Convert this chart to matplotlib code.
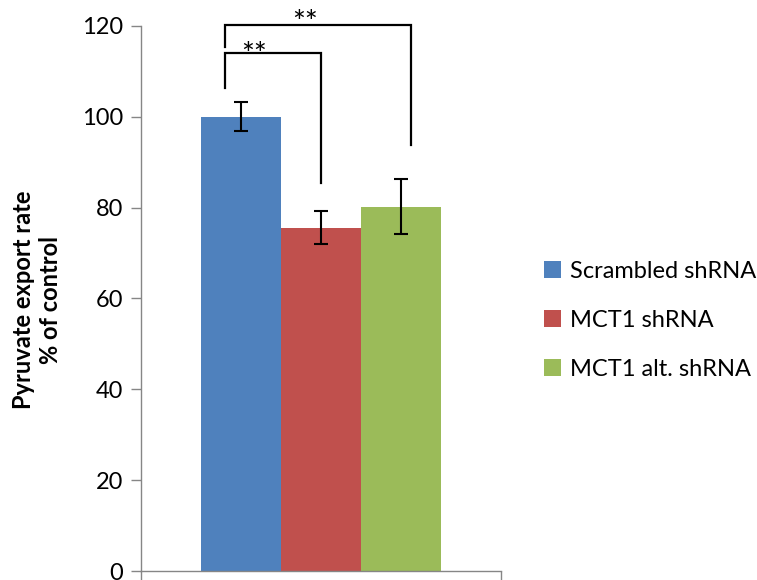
import matplotlib.pyplot as plt

plt.rcParams['font.family'] = ['Lato', 'DejaVu Sans']

# data
groups = ['Scrambled shRNA', 'MCT1 shRNA', 'MCT1 alt. shRNA']
rates = [100.0, 75.6, 80.2]
errors = [3.2, 3.6, 6.0]
colors = ['#4f81bd', '#c0504d', '#9bbb59']

# significance brackets: (x_left, x_right, y_top, y_left_end, y_right_end, label_x, label_y)
brackets = [
    (-0.2, 1.0, 114.0, 106.3, 85.5, 0.16, 111.7),
    (-0.2, 2.12, 120.2, 115.4, 93.8, 0.80, 118.7),
]

fig = plt.figure(figsize=(7.57, 5.8), dpi=100)
ax = fig.add_axes([0.1863, 0.0155, 0.4755, 0.9397])

for i in range(len(groups)):
    ax.bar(i, rates[i], width=1.0, color=colors[i], label=groups[i])
    ax.errorbar(i, rates[i], yerr=errors[i], fmt='none', ecolor='black',
                elinewidth=1.5, capsize=5, capthick=1.5)

for x1, x2, yt, y1, y2, lx, ly in brackets:
    ax.plot([x1, x1, x2, x2], [y1, yt, yt, y2], color='black', lw=1.6,
            clip_on=False, solid_joinstyle='miter')
    ax.text(lx, ly, '**', ha='center', va='baseline', fontsize=22,
            clip_on=False)

ax.set_xlim(-1.25, 3.25)
ax.set_ylim(0, 120)
ax.set_yticks(range(0, 121, 20))
ax.set_xticks([-1.25, 3.25])
ax.set_xticklabels(['', ''])

for s in ['top', 'right']:
    ax.spines[s].set_visible(False)
for s in ['left', 'bottom']:
    ax.spines[s].set_color('#868686')
    ax.spines[s].set_linewidth(1.0)
ax.tick_params(axis='y', colors='#868686', labelcolor='black', labelsize=17,
               length=7, width=1.0, pad=6)
ax.tick_params(axis='x', colors='#868686', length=10, width=1.0)

ax.set_ylabel('Pyruvate export rate\n% of control', fontsize=17,
              fontweight='bold')
ax.yaxis.set_label_coords(-0.22, 0.497)

ax.legend(loc='center left', bbox_to_anchor=(1.12, 0.46), frameon=False,
          fontsize=17, handlelength=0.7, handleheight=0.7, handletextpad=0.4,
          labelspacing=1.18, borderpad=0, borderaxespad=0)

fig.savefig('out.png', dpi=100)
